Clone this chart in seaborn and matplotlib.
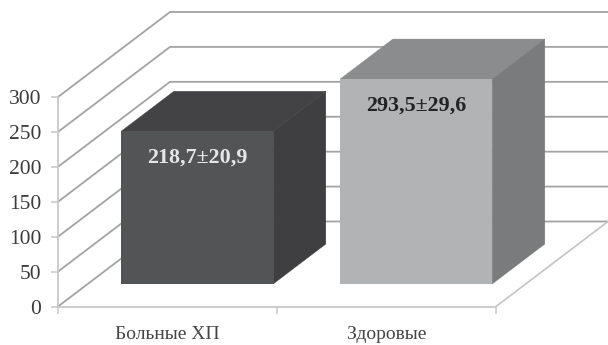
import matplotlib
matplotlib.use("Agg")
import matplotlib.pyplot as plt
from matplotlib.patches import Polygon
from matplotlib.transforms import Affine2D
import pandas as pd
import seaborn as sns

categories = ["Больные ХП", "Здоровые"]
values = [218.7, 293.5]
errors = [20.9, 29.6]
value_labels = ["218,7±20,9", "293,5±29,6"]
y_ticks = [0, 50, 100, 150, 200, 250, 300]

front_colors = ["#535456", "#b2b3b5"]
top_colors = ["#434345", "#8b8c8e"]
side_colors = ["#3f3f41", "#7a7b7d"]
label_colors = ["#e6e6e6", "#232323"]

sns.set_theme(style="white")
plt.rcParams["font.family"] = ["Liberation Serif", "DejaVu Serif"]

W, H = 608, 345
fig = plt.figure(figsize=(W / 100, H / 100), dpi=100, facecolor="white")
ax = fig.add_axes([58 / W, (H - 306.5) / H, 438 / W, 209.5 / H])

df = pd.DataFrame({"group": categories, "value": values})
sns.barplot(data=df, x="group", y="value", hue="group", palette=front_colors,
            legend=False, width=0.694, ax=ax, saturation=1, zorder=5,
            edgecolor="none", linewidth=0)
ax.set_xlim(-0.5, 1.5)
ax.set_ylim(0, 300)
ax.set_xlabel("")
ax.set_ylabel("")

# Depth of the box, in data units
DX, DY = 112 / 219, 85 / (209.5 / 300)
BAR_FRONT, BAR_BACK = 0.265, 0.735


def proj(x, y, d):
    return (x + DX * d, y + DY * d)


# Walls: grid lines run from the front axis to the back wall, then along it
x0, x1 = ax.get_xlim()
for v in y_ticks:
    pts = [proj(x0, v, 0), proj(x0, v, 1), proj(x1, v, 1)]
    ax.plot(*zip(*pts), color="#a3a3a3", lw=1.3, clip_on=False, zorder=1,
            solid_joinstyle="miter")
pts = [proj(x1, 0, 0), proj(x1, 0, 1)]
ax.plot(*zip(*pts), color="#c4c4c4", lw=1.2, clip_on=False, zorder=1)

# Bars: shift the front faces and add the top and side faces
shift = Affine2D().translate(DX * BAR_FRONT, DY * BAR_FRONT) + ax.transData
bars = list(ax.patches)
for i, bar in enumerate(bars):
    l, r = bar.get_x(), bar.get_x() + bar.get_width()
    v = bar.get_height()
    bar.set_transform(shift)
    bar.set_clip_on(False)
    top = [proj(l, v, BAR_FRONT), proj(r, v, BAR_FRONT), proj(r, v, BAR_BACK), proj(l, v, BAR_BACK)]
    side = [proj(r, 0, BAR_FRONT), proj(r, v, BAR_FRONT), proj(r, v, BAR_BACK), proj(r, 0, BAR_BACK)]
    ax.add_patch(Polygon(top, closed=True, fc=top_colors[i], ec=top_colors[i], lw=0.3, clip_on=False, zorder=4))
    ax.add_patch(Polygon(side, closed=True, fc=side_colors[i], ec=side_colors[i], lw=0.3, clip_on=False, zorder=4))
    ax.text((l + r) / 2, v - 38, value_labels[i], transform=shift, ha="center", va="center",
            color=label_colors[i], fontsize=15.8, fontweight="bold", zorder=6, clip_on=False)

# Axes
for s in ("top", "right"):
    ax.spines[s].set_visible(False)
for s in ("left", "bottom"):
    ax.spines[s].set_color("#c8c8c8")
    ax.spines[s].set_linewidth(1.3)
ax.set_yticks(y_ticks)
ax.tick_params(axis="y", length=5, width=1.1, color="#c8c8c8", labelsize=15.5,
               labelcolor="#3c3c3c", pad=7, left=True)
ax.set_xticks([0, 1], categories)
ax.set_xticks([-0.5, 0.5, 1.5], minor=True)
ax.tick_params(axis="x", which="major", length=0, labelsize=14, labelcolor="#454545", pad=14)
ax.tick_params(axis="x", which="minor", length=5, width=1.1, color="#c8c8c8", bottom=True)

fig.savefig("out.png", dpi=100)
